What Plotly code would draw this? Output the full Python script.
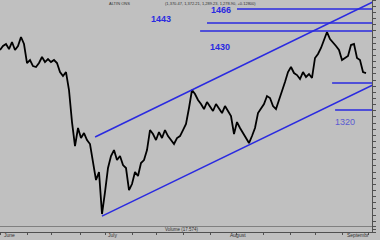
import plotly.graph_objects as go

# ---- data ----
bar_index = list(range(123))
close_price = [
    1399.0, 1405.5, 1408.8, 1400.6, 1412.0, 1399.0, 1405.5, 1420.2, 1408.8, 1377.8,
    1382.7, 1372.9, 1371.3, 1377.8, 1387.6, 1379.4, 1384.3, 1379.4, 1382.7, 1377.8,
    1363.1, 1356.6, 1363.1, 1333.8, 1281.6, 1242.5, 1271.9, 1255.6, 1263.7, 1252.3,
    1245.8, 1219.7, 1187.1, 1200.1, 1131.7, 1167.5, 1206.7, 1226.2, 1236.0, 1219.7,
    1226.2, 1211.5, 1206.7, 1170.8, 1180.6, 1200.1, 1193.6, 1214.8, 1219.7, 1236.0,
    1268.6, 1262.1, 1252.3, 1265.3, 1255.6, 1268.6, 1258.8, 1252.3, 1245.8, 1255.6,
    1258.8, 1268.6, 1278.4, 1304.5, 1333.8, 1327.3, 1317.5, 1311.0, 1302.8, 1314.2,
    1306.1, 1299.6, 1311.0, 1304.5, 1296.3, 1307.7, 1299.6, 1291.4, 1262.1, 1281.6,
    1271.9, 1263.7, 1255.6, 1247.4, 1258.8, 1271.9, 1296.3, 1304.5, 1311.0, 1324.0,
    1320.8, 1307.7, 1302.8, 1317.5, 1330.5, 1346.8, 1363.1, 1371.3, 1361.5, 1358.2,
    1351.7, 1363.1, 1355.0, 1359.9, 1353.4, 1386.0, 1392.5, 1402.3, 1415.3, 1428.3,
    1416.9, 1412.0, 1405.5, 1399.0, 1382.7, 1386.0, 1389.2, 1407.1, 1408.8, 1386.0,
    1382.7, 1363.1, 1361.5,
]

# horizontal levels: price, start index
level_prices = [1466, 1443, 1430, 1345.2, 1301.2]
level_start = [79, 69, 66.7, 110.7, 111.7]
level_end = 124

# channel lines (start/end index, start/end price)
upper_x = [31.7, 124.3]
upper_y = [1257.2, 1477.2]
lower_x = [34.0, 124.3]
lower_y = [1128.4, 1342.0]

# level labels
label_text = ["1466", "1443", "1430", "1320"]
label_x = [73.7, 53.7, 73.3, 115.0]
label_y = [1464.5, 1449.5, 1403.9, 1281.6]

# x ticks (weekly) and month labels
week_ticks = [0, 9, 17.3, 26.7, 35.3, 44, 52.3, 61, 70, 78.7, 87.7, 96.7, 105, 114, 122.7]
month_labels = ["June", "July", "August", "Septembr"]
month_pos = [0.6, 35.4, 76.0, 115.0]

title_text = "ALTIN ONS"
ohlc_text = "(1,370.47, 1,372.21, 1,289.23, 1,278.90, +0.12800)"
volume_text = "Volume (17.574)"

BG = "#c0c0c0"
BLUE = "#2a2ae0"
AXC = "#505050"

fig = go.Figure()

fig.add_trace(go.Scatter(x=bar_index, y=close_price, mode="lines",
                         line=dict(color="#000000", width=1.8), xaxis="x", yaxis="y",
                         hoverinfo="skip"))

for p, s in zip(level_prices, level_start):
    fig.add_trace(go.Scatter(x=[s, level_end], y=[p, p], mode="lines",
                             line=dict(color=BLUE, width=1.5), xaxis="x", yaxis="y",
                             hoverinfo="skip"))

fig.add_trace(go.Scatter(x=upper_x, y=upper_y, mode="lines",
                         line=dict(color=BLUE, width=1.5), xaxis="x", yaxis="y"))
fig.add_trace(go.Scatter(x=lower_x, y=lower_y, mode="lines",
                         line=dict(color=BLUE, width=1.5), xaxis="x", yaxis="y"))

# empty trace for the volume pane
fig.add_trace(go.Scatter(x=[None], y=[None], xaxis="x2", yaxis="y2", mode="lines"))

annotations = []
for t, x, y in zip(label_text, label_x, label_y):
    last = t == "1320"
    annotations.append(dict(
        x=x, y=y, xref="x", yref="y", text=t if last else "<b>%s</b>" % t,
        showarrow=False,
        font=dict(family="Liberation Sans, Arial", size=9,
                  color="#5a5ad2" if last else BLUE)))

for t, x in zip(month_labels, month_pos):
    annotations.append(dict(x=x, y=0.0, xref="x", yref="paper", text=t,
                            showarrow=False, xanchor="left", yanchor="bottom",
                            font=dict(family="Liberation Sans, Arial", size=5, color="#303030")))

annotations.append(dict(x=107 / 380, y=1.005, xref="paper", yref="paper", text=title_text,
                        showarrow=False, xanchor="left", yanchor="top",
                        font=dict(family="Liberation Sans, Arial", size=4, color="#303030")))
annotations.append(dict(x=163 / 380, y=1.005, xref="paper", yref="paper", text=ohlc_text,
                        showarrow=False, xanchor="left", yanchor="top",
                        font=dict(family="Liberation Sans, Arial", size=4, color="#303030")))
annotations.append(dict(x=163 / 380, y=(240 - 229) / 240, xref="paper", yref="paper",
                        text=volume_text, showarrow=False, xanchor="left", yanchor="middle",
                        font=dict(family="Liberation Sans, Arial", size=4.5, color="#303030")))

fig.update_layout(
    width=380, height=240,
    margin=dict(l=0, r=0, t=0, b=0),
    paper_bgcolor=BG, plot_bgcolor=BG,
    showlegend=False,
    annotations=annotations,
    xaxis=dict(domain=[0, 372 / 380], range=[0, 124], anchor="y",
               showgrid=False, zeroline=False, showticklabels=False,
               showline=True, linecolor="#808080", linewidth=1, ticks=""),
    yaxis=dict(domain=[14 / 240, 1], range=[1112.2, 1480.5], side="right", anchor="x",
               showgrid=False, zeroline=False, showticklabels=False,
               showline=True, linecolor=AXC, linewidth=1,
               ticks="outside", ticklen=3, tickcolor=AXC, dtick=10, tick0=1120),
    xaxis2=dict(domain=[0, 372 / 380], range=[0, 124], anchor="y2", matches="x",
                showgrid=False, zeroline=False, showticklabels=False,
                showline=True, linecolor=AXC, linewidth=1,
                ticks="outside", ticklen=2, tickcolor=AXC,
                tickmode="array", tickvals=week_ticks),
    yaxis2=dict(domain=[8 / 240, 14 / 240], range=[0, 1], side="right", anchor="x2",
                showgrid=False, zeroline=False, showticklabels=False,
                showline=True, linecolor=AXC, linewidth=1,
                ticks="outside", ticklen=3, tickcolor=AXC, dtick=0.5),
)

fig.write_html("out.html")
